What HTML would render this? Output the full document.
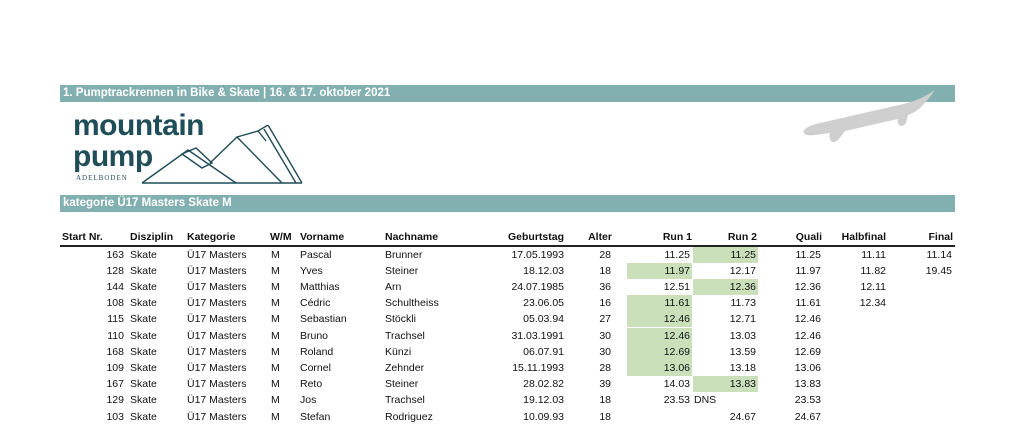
<!DOCTYPE html>
<html><head><meta charset="utf-8"><style>
body{margin:0;width:1024px;height:438px;background:#fff;position:relative;overflow:hidden;font-family:"Liberation Sans",sans-serif;color:#111}
.a{position:absolute;white-space:nowrap;font-size:10.5px;line-height:16px}
.r{text-align:right}
.h{font-weight:bold;font-size:10.5px}
.bar{position:absolute;left:60px;width:895px;height:17px;background:#82b0b1;color:#fff;font-weight:bold;font-size:11.5px;line-height:17px;padding-left:3px;box-sizing:border-box}
.g{position:absolute;background:#c9e0bb;height:16px}
</style></head><body>
<div class="bar" style="top:85px">1. Pumptrackrennen in Bike &amp; Skate | 16.  &amp; 17. oktober 2021</div>
<div class="bar" style="top:195px">kategorie Ü17 Masters Skate M</div>
<div class="a" style="left:73px;top:112px;font-size:30px;line-height:28px;font-weight:bold;color:#1f4d58;letter-spacing:-0.5px">mountain</div>
<div class="a" style="left:73px;top:143px;font-size:30px;line-height:28px;font-weight:bold;color:#1f4d58;letter-spacing:-0.5px">pump</div>
<div class="a" style="left:76px;top:173px;font-size:7px;line-height:10px;color:#1f4d58;font-family:'Liberation Serif',serif;letter-spacing:1px">ADELBODEN</div>
<svg style="position:absolute;left:140px;top:125px" width="170" height="62"><g fill="none" stroke="#1f4d58" stroke-width="1.4">
<path d="M2 58 H162"/><path d="M2 58 L48 25 L96 58"/><path d="M42 29 L62 43 L72 38 L56 23 Z"/><path d="M70 38 L97 12 L142 58"/><path d="M97 12 L118 6 L126 16"/><path d="M118 6 L128 0 L162 58 M124 4 L156 58"/></g></svg>
<svg style="position:absolute;left:790px;top:85px" width="160" height="70"><path d="M145 5 C130 15 120 18 100 22 L30 38 C10 42 8 52 25 50 L40 48 C38 55 42 60 48 55 L55 46 L108 34 C106 40 112 44 116 38 L118 30 C130 26 135 18 145 5Z" fill="#cfcfcf"/></svg>
<div style="position:absolute;left:60px;top:245px;width:895px;height:1.5px;background:#222"></div>
<div class="a h" style="left:62px;top:229px">Start Nr.</div>
<div class="a h" style="left:130px;top:229px">Disziplin</div>
<div class="a h" style="left:187px;top:229px">Kategorie</div>
<div class="a h" style="left:270px;top:229px">W/M</div>
<div class="a h" style="left:300px;top:229px">Vorname</div>
<div class="a h" style="left:385px;top:229px">Nachname</div>
<div class="a h r" style="left:480px;width:84px;top:229px">Geburtstag</div>
<div class="a h r" style="left:570px;width:42px;top:229px">Alter</div>
<div class="a h r" style="left:630px;width:62px;top:229px">Run 1</div>
<div class="a h r" style="left:695px;width:62px;top:229px">Run 2</div>
<div class="a h r" style="left:760px;width:62px;top:229px">Quali</div>
<div class="a h r" style="left:820px;width:66px;top:229px">Halbfinal</div>
<div class="a h r" style="left:890px;width:63px;top:229px">Final</div>
<div id="rows"></div>
<script>
var d=[["163","Pascal","Brunner","17.05.1993","28","11.25","11.25","11.25","11.11","11.14"],
["128","Yves","Steiner","18.12.03","18","11.97","12.17","11.97","11.82","19.45"],
["144","Matthias","Arn","24.07.1985","36","12.51","12.36","12.36","12.11",""],
["108","Cédric","Schultheiss","23.06.05","16","11.61","11.73","11.61","12.34",""],
["115","Sebastian","Stöckli","05.03.94","27","12.46","12.71","12.46","",""],
["110","Bruno","Trachsel","31.03.1991","30","12.46","13.03","12.46","",""],
["168","Roland","Künzi","06.07.91","30","12.69","13.59","12.69","",""],
["109","Cornel","Zehnder","15.11.1993","28","13.06","13.18","13.06","",""],
["167","Reto","Steiner","28.02.82","39","14.03","13.83","13.83","",""],
["129","Jos","Trachsel","19.12.03","18","23.53","","23.53","",""],
["103","Stefan","Rodriguez","10.09.93","18","","24.67","24.67","",""]];
var g1=[1,3,4,5,6,7],g2=[0,2,8],h="";
d.forEach(function(r,i){var t=(246.5+i*16.2).toFixed(1);
if(g1.indexOf(i)>=0)h+='<div class="g" style="left:627px;width:65px;top:'+t+'px"></div>';
if(g2.indexOf(i)>=0)h+='<div class="g" style="left:693px;width:65px;top:'+t+'px"></div>';
function R(l,w,s){h+='<div class="a r" style="left:'+l+'px;width:'+w+'px;top:'+t+'px">'+s+'</div>'}
function L(l,s){h+='<div class="a" style="left:'+l+'px;top:'+t+'px">'+s+'</div>'}
R(80,44,r[0]);L(130,"Skate");L(187,"Ü17 Masters");L(271,"M");L(300,r[1]);L(385,r[2]);
R(480,84,r[3]);R(570,41,r[4]);R(630,60,r[5]);R(695,61,r[6]);R(760,61,r[7]);R(820,66,r[8]);R(890,62,r[9]);
if(i==9)L(694,"DNS");});
document.getElementById("rows").innerHTML=h;
</script>
</body></html>
